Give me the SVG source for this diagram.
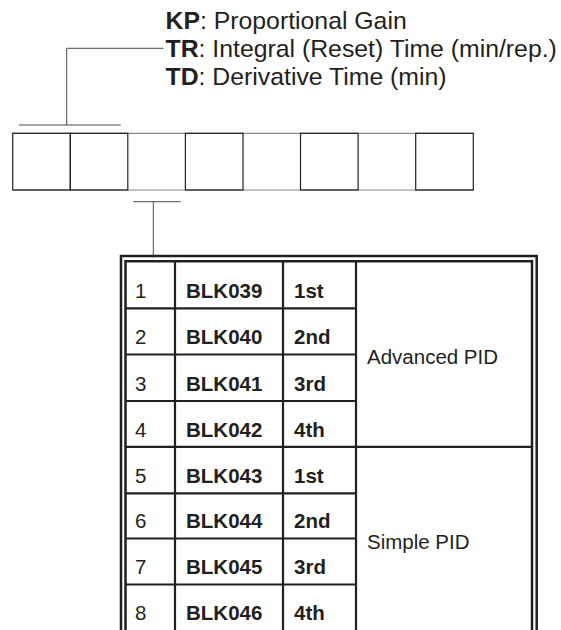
<svg xmlns="http://www.w3.org/2000/svg" width="561" height="630" viewBox="0 0 561 630">
<style>
text{font-family:"Liberation Sans",Arial,sans-serif;fill:#231f20}
.lg{font-size:24.8px}
.t{font-size:20.5px}
.b{font-weight:bold}
.box{fill:none;stroke:#231f20;stroke-width:1.2}
.gl{stroke:#8a8a8a;stroke-width:1.2;fill:none}
.br{stroke:#4a4a4a;stroke-width:1;fill:none}
.grid{stroke:#231f20;stroke-width:2.2;fill:none}
.bd{stroke:#231f20;stroke-width:2.5;fill:none}
</style>
<rect width="561" height="630" fill="#fff"/>
<g id="legend">
<text class="lg" x="165.5" y="28.5"><tspan class="b">KP</tspan>: Proportional Gain</text>
<text class="lg" x="165.5" y="56.7"><tspan class="b">TR</tspan>: Integral (Reset) Time (min/rep.)</text>
<text class="lg" x="165.5" y="85"><tspan class="b">TD</tspan>: Derivative Time (min)</text>
</g>
<g id="boxrow">
<line class="gl" x1="12.7" y1="133.3" x2="473.3" y2="133.3"/>
<line class="gl" x1="12.7" y1="190" x2="473.3" y2="190"/>
<rect class="box" x="12.7" y="133.3" width="57.6" height="56.7"/>
<rect class="box" x="70.3" y="133.3" width="57.5" height="56.7"/>
<rect class="box" x="185.4" y="133.3" width="57.6" height="56.7"/>
<rect class="box" x="300.5" y="133.3" width="57.6" height="56.7"/>
<rect class="box" x="415.7" y="133.3" width="57.6" height="56.7"/>
</g>
<g id="connectors">
<polyline class="br" points="19,125 120.7,125"/>
<polyline class="br" points="66.7,125 66.7,48.3 163.3,48.3"/>
<polyline class="br" points="133.3,201.7 180.7,201.7"/>
<polyline class="br" points="153.3,201.7 153.3,257.5"/>
</g>
<g id="table">
<path class="bd" d="M121,640 V256 H536.7 V640"/>
<path class="bd" d="M125.5,640 V261.3 H532 V640"/>
<line class="grid" x1="175" y1="261" x2="175" y2="640"/>
<line class="grid" x1="283" y1="261" x2="283" y2="640"/>
<line class="grid" x1="356" y1="261" x2="356" y2="640"/>
<line class="grid" x1="125.5" y1="308.3" x2="356" y2="308.3"/>
<line class="grid" x1="125.5" y1="354.5" x2="356" y2="354.5"/>
<line class="grid" x1="125.5" y1="401" x2="356" y2="401"/>
<line class="grid" x1="125.5" y1="446.8" x2="532" y2="446.8"/>
<line class="grid" x1="125.5" y1="493.3" x2="356" y2="493.3"/>
<line class="grid" x1="125.5" y1="538.5" x2="356" y2="538.5"/>
<line class="grid" x1="125.5" y1="584.5" x2="356" y2="584.5"/>
<g class="t">
<text x="135" y="298">1</text><text class="b" x="186" y="298">BLK039</text><text class="b" x="294" y="298">1st</text>
<text x="135" y="344.3">2</text><text class="b" x="186" y="344.3">BLK040</text><text class="b" x="294" y="344.3">2nd</text>
<text x="135" y="391">3</text><text class="b" x="186" y="391">BLK041</text><text class="b" x="294" y="391">3rd</text>
<text x="135" y="436.8">4</text><text class="b" x="186" y="436.8">BLK042</text><text class="b" x="294" y="436.8">4th</text>
<text x="135" y="482.8">5</text><text class="b" x="186" y="482.8">BLK043</text><text class="b" x="294" y="482.8">1st</text>
<text x="135" y="528.4">6</text><text class="b" x="186" y="528.4">BLK044</text><text class="b" x="294" y="528.4">2nd</text>
<text x="135" y="574.4">7</text><text class="b" x="186" y="574.4">BLK045</text><text class="b" x="294" y="574.4">3rd</text>
<text x="135" y="620">8</text><text class="b" x="186" y="620">BLK046</text><text class="b" x="294" y="620">4th</text>
<text x="367" y="363.5">Advanced PID</text>
<text x="367" y="548.5">Simple PID</text>
</g>
</g>
</svg>
